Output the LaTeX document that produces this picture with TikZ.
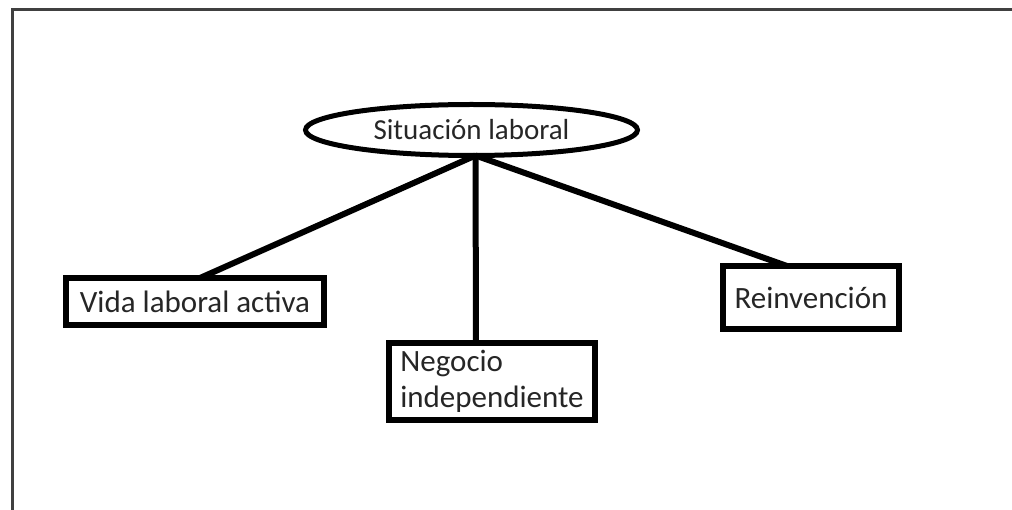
\documentclass[tikz,border=0pt]{standalone}
\usepackage{fontspec}
\setmainfont{Carlito}
\usepackage{tikz}
\usetikzlibrary{shapes.geometric}

\begin{document}
\begin{tikzpicture}[x=1pt,y=-1pt,
  -,line width=6pt,
  box/.style={draw,rectangle,line width=6pt,inner sep=0pt,outer sep=0pt,text=black!85},
  root/.style={draw,ellipse,line width=5pt,inner sep=0pt,outer sep=0pt,minimum width=332pt,minimum height=51pt,text=black!85,font=\fontsize{29}{34}\selectfont}]
      \tikzstyle{every node}=[font=\fontsize{31}{36}\selectfont]

      \useasboundingbox (0,0) rectangle (1012,510);
      \draw[line width=2.5pt,black!75] (12.5,510) -- (12.5,9.5) -- (1012,9.5);

     \node [root] (sit) at (471.5,130) {Situación laboral};
     \node [box,minimum width=258pt,minimum height=47pt] (vida) at (195,301.5) {Vida laboral activa};
     \node [box,minimum width=206pt,minimum height=77pt,align=left] (neg) at (492,381.5) {Negocio\\independiente};
     \node [box,minimum width=176pt,minimum height=63pt] (reinv) at (811,297.5) {Reinvención};

     \draw ([xshift=4pt]sit.south) -- ([xshift=5pt]vida.north);
     \draw ([xshift=4pt]sit.south) -- ([xshift=-16pt]neg.north);
     \draw ([xshift=4pt]sit.south) -- ([xshift=-24pt]reinv.north);

\end{tikzpicture}
\end{document}
